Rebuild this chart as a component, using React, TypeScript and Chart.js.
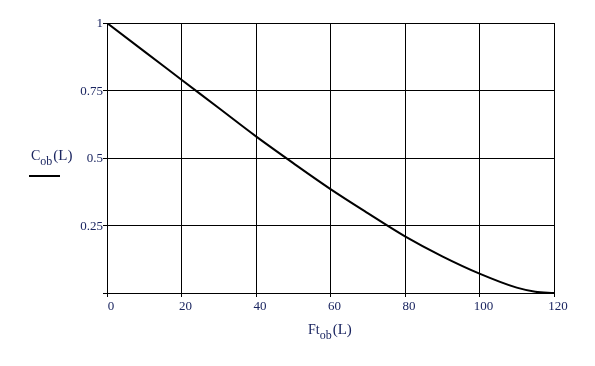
import React, { useEffect, useRef } from "react";
import { Chart, registerables } from "chart.js";

Chart.register(...registerables);

const L_VALUES = [0, 10, 20, 30, 40, 50, 60, 70, 80, 90, 100, 110, 115, 120];
const C_VALUES = [1, 0.895, 0.79, 0.685, 0.58, 0.481, 0.385, 0.296, 0.21, 0.136, 0.072, 0.02, 0.005, 0];
const X_TICKS = [0, 20, 40, 60, 80, 100, 120];
const Y_TICKS = [0, 0.25, 0.5, 0.75, 1];

const TEXT_COLOR = "#1a2560";
const SERIF = "'Liberation Serif', 'DejaVu Serif', serif";

const titlesPlugin = {
  id: "mathcadTitles",
  afterDraw(chart: any) {
    const ctx = chart.ctx as CanvasRenderingContext2D;
    ctx.save();
    ctx.fillStyle = TEXT_COLOR;
    ctx.textBaseline = "alphabetic";
    ctx.textAlign = "left";
    // x title: Ft_ob(L)
    let x = 308;
    ctx.font = `14px ${SERIF}`;
    ctx.fillText("Ft", x, 333.5);
    x += ctx.measureText("Ft").width;
    ctx.font = `12px ${SERIF}`;
    ctx.fillText("ob", x, 339);
    x += ctx.measureText("ob").width + 1;
    ctx.font = `15px ${SERIF}`;
    ctx.fillText("(L)", x, 333.5);
    // y title: C_ob(L)
    x = 31;
    ctx.font = `14px ${SERIF}`;
    ctx.fillText("C", x, 159.5);
    x += ctx.measureText("C").width;
    ctx.font = `12px ${SERIF}`;
    ctx.fillText("ob", x, 165);
    x += ctx.measureText("ob").width + 1;
    ctx.font = `15px ${SERIF}`;
    ctx.fillText("(L)", x, 159.5);
    ctx.fillStyle = "#000";
    ctx.fillRect(29, 175, 31, 2);
    ctx.restore();
  },
};

export default function App() {
  const ref = useRef<HTMLCanvasElement | null>(null);
  useEffect(() => {
    if (!ref.current) return;
    const chart = new Chart(ref.current, {
      type: "line",
      data: {
        datasets: [
          {
            data: L_VALUES.map((l, i) => ({ x: l, y: C_VALUES[i] })),
            borderColor: "#000",
            borderWidth: 2,
            pointRadius: 0,
            fill: false,
            cubicInterpolationMode: "monotone",
          },
        ],
      },
      options: {
        animation: false,
        responsive: false,
        devicePixelRatio: 1,
        layout: { padding: { left: 0, top: 23, right: 41, bottom: 0 } },
        plugins: { legend: { display: false }, tooltip: { enabled: false } },
        scales: {
          x: {
            type: "linear",
            min: 0,
            max: 120,
            afterBuildTicks: (s: any) => {
              s.ticks = X_TICKS.map((v) => ({ value: v }));
            },
            afterFit: (s: any) => {
              s.height = 73;
            },
            grid: { color: "#000", lineWidth: 1, tickLength: 4, drawTicks: true },
            border: { color: "#000", width: 1 },
            ticks: {
              color: TEXT_COLOR,
              font: { family: SERIF, size: 13 },
              padding: 2,
              labelOffset: 4,
              maxRotation: 0,
              autoSkip: false,
            },
          },
          y: {
            type: "linear",
            min: 0,
            max: 1,
            afterBuildTicks: (s: any) => {
              s.ticks = Y_TICKS.map((v) => ({ value: v }));
            },
            afterFit: (s: any) => {
              s.width = 107;
            },
            grid: { color: "#000", lineWidth: 1, tickLength: 4, drawTicks: true },
            border: { color: "#000", width: 1 },
            ticks: {
              color: TEXT_COLOR,
              font: { family: SERIF, size: 13 },
              padding: 0,
              labelOffset: 1,
              autoSkip: false,
              callback: (v: any) => (Number(v) === 0 ? "" : String(v)),
            },
          },
        },
      },
      plugins: [titlesPlugin],
    });
    return () => chart.destroy();
  }, []);
  return (
    <div style={{ position: "absolute", left: 0, top: 0, width: 595, height: 366, background: "#fff" }}>
      <canvas ref={ref} width={595} height={366} style={{ display: "block" }} />
    </div>
  );
}
